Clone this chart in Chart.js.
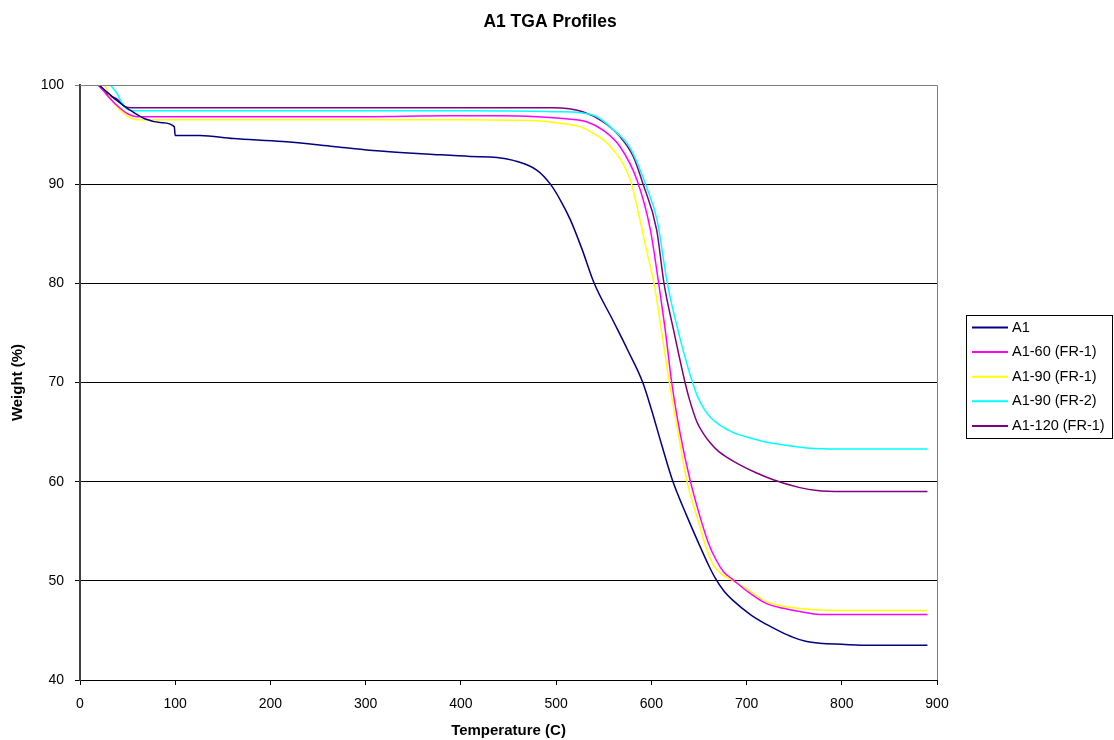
<!DOCTYPE html>
<html>
<head>
<meta charset="utf-8">
<title>A1 TGA Profiles</title>
<script src="https://cdn.jsdelivr.net/npm/chart.js@4"></script>
<style>
  body { margin: 0; background: #fff; }
  canvas { display: block; }
</style>
</head>
<body>
<canvas id="tgaChart" width="1114" height="740"></canvas>
<script>
// 数据：温度 (C) 与失重 (%)
const chartTitle = 'A1 TGA Profiles';
const seriesLabels = ['A1', 'A1-60 (FR-1)', 'A1-90 (FR-1)', 'A1-90 (FR-2)', 'A1-120 (FR-1)'];
const seriesColors = ['#000080', '#ff00ff', '#ffff00', '#00ffff', '#800080'];

const a1Temp = [20, 26, 38, 52, 68, 86, 99, 100, 126, 161, 213, 266, 301, 336, 371, 410, 438, 455, 480, 494, 505, 515, 527, 540, 560, 575, 591, 600, 610, 622, 637, 651, 660, 667, 676, 686, 704, 721, 735, 749, 762, 777, 800, 830, 860, 890];
const a1Weight = [100, 99.5, 98.5, 97.5, 96.6, 96.2, 95.8, 94.9, 94.9, 94.6, 94.3, 93.8, 93.45, 93.2, 93.0, 92.8, 92.7, 92.4, 91.4, 90.0, 88.3, 86.4, 83.5, 80.0, 76.2, 73.3, 70.0, 67.3, 64.0, 60.2, 56.6, 53.5, 51.6, 50.3, 49.0, 48.0, 46.6, 45.6, 44.9, 44.3, 43.9, 43.7, 43.6, 43.5, 43.5, 43.5];

const a160Temp = [20, 30, 44, 50, 60, 100, 200, 300, 385, 441, 480, 510, 532, 550, 567, 585, 599, 607.7, 615, 621.4, 630, 640.6, 651, 660, 668.6, 676, 686, 700, 721, 740, 756, 777, 800, 890];
const a160Weight = [100, 98.8, 97.5, 97.1, 96.8, 96.8, 96.8, 96.8, 96.9, 96.9, 96.8, 96.6, 96.3, 95.4, 93.8, 90.4, 85.4, 80.0, 75.0, 70.0, 65.0, 60.2, 56.5, 53.8, 52.0, 50.9, 50.1, 49.0, 47.7, 47.2, 46.9, 46.6, 46.6, 46.6];

const a190Temp = [22, 25, 33, 44, 51, 60, 100, 200, 300, 400, 480, 500, 525, 545, 557, 578, 588, 595, 602.8, 611, 618.9, 628, 637, 650, 658, 665, 675, 686, 700, 721, 756, 800, 890];
const a190Weight = [100, 100, 98.5, 97.3, 96.8, 96.5, 96.5, 96.5, 96.5, 96.5, 96.4, 96.2, 95.8, 94.8, 93.8, 90.4, 86.4, 83.3, 80.0, 75.0, 70.0, 65.0, 60.2, 55.8, 53.2, 51.6, 50.6, 50.0, 49.2, 47.9, 47.2, 47.0, 47.0];

const a190fr2Temp = [32, 38.5, 44, 49, 60, 100, 200, 300, 400, 500, 525, 543, 560, 578, 595, 606, 616.8, 630, 637, 642.3, 648, 655, 663, 672, 685, 704, 720, 739, 763, 800, 890];
const a190fr2Weight = [100, 99.2, 98.2, 97.6, 97.4, 97.4, 97.4, 97.4, 97.4, 97.3, 97.2, 96.8, 95.5, 93.6, 89.7, 86.4, 80.0, 74.5, 72.0, 70.3, 68.7, 67.4, 66.4, 65.7, 65.0, 64.4, 64.0, 63.7, 63.4, 63.3, 63.3];

const a1120Temp = [19, 30, 40, 47, 55, 100, 200, 300, 400, 497, 528, 549, 567, 581, 591, 605.6, 613.3, 624, 635.4, 640, 648, 655, 662, 670, 682, 693, 710, 728, 756, 774, 800, 890];
const a1120Weight = [100, 99, 98.5, 97.8, 97.7, 97.7, 97.7, 97.7, 97.7, 97.7, 97.3, 96.3, 94.8, 92.8, 90.1, 85.4, 80.0, 75.0, 70.0, 68.3, 66.0, 64.8, 63.9, 63.1, 62.3, 61.7, 60.9, 60.2, 59.4, 59.1, 59.0, 59.0];

const xTicksMin = 0, xTicksMax = 900, xStep = 100;
const yTicksMin = 40, yTicksMax = 100, yStep = 10;

const FONT = "Arial, 'Liberation Sans', sans-serif";

function toPoints(xs, ys) {
  return xs.map((x, i) => ({ x: x, y: ys[i] }));
}

const allSeries = [
  toPoints(a1Temp, a1Weight),
  toPoints(a160Temp, a160Weight),
  toPoints(a190Temp, a190Weight),
  toPoints(a190fr2Temp, a190fr2Weight),
  toPoints(a1120Temp, a1120Weight),
];

// 标题：原图中标题并不在画布正中，单独绘制
const titlePlugin = {
  id: 'titleText',
  afterDraw(chart) {
    const { ctx } = chart;
    ctx.save();
    ctx.font = 'bold 17.5px ' + FONT;
    ctx.fillStyle = '#000';
    ctx.textAlign = 'center';
    ctx.textBaseline = 'middle';
    ctx.fillText(chartTitle, 550, 22);
    ctx.restore();
  },
};

// 绘图区右侧与上侧的灰色边框
const plotBorder = {
  id: 'plotBorder',
  afterDraw(chart) {
    const { ctx, chartArea } = chart;
    ctx.save();
    ctx.strokeStyle = '#808080';
    ctx.lineWidth = 1;
    ctx.beginPath();
    ctx.moveTo(chartArea.left, chartArea.top + 0.5);
    ctx.lineTo(chartArea.right + 0.5, chartArea.top + 0.5);
    ctx.lineTo(chartArea.right + 0.5, chartArea.bottom);
    ctx.stroke();
    ctx.restore();
  },
};

// 带边框的图例
const boxLegend = {
  id: 'boxLegend',
  afterDraw(chart) {
    const { ctx } = chart;
    const left = 966, top = 315, width = 146, height = 123;
    ctx.save();
    ctx.strokeStyle = '#000';
    ctx.lineWidth = 1;
    ctx.strokeRect(left + 0.5, top + 0.5, width, height);
    ctx.font = '14.5px ' + FONT;
    ctx.textBaseline = 'middle';
    ctx.fillStyle = '#000';
    chart.data.datasets.forEach((ds, i) => {
      const y = 327.5 + i * 24.6;
      ctx.strokeStyle = ds.borderColor;
      ctx.lineWidth = 2;
      ctx.beginPath();
      ctx.moveTo(972, y);
      ctx.lineTo(1008, y);
      ctx.stroke();
      ctx.fillText(ds.label, 1012, y);
    });
    ctx.restore();
  },
};

function renderChart() {
  const datasets = allSeries.map((pts, i) => ({
    label: seriesLabels[i],
    data: pts,
    borderColor: seriesColors[i],
    backgroundColor: seriesColors[i],
    borderWidth: 1.5,
    pointRadius: 0,
    showLine: true,
    fill: false,
    cubicInterpolationMode: 'monotone',
  }));

  new Chart(document.getElementById('tgaChart'), {
    type: 'scatter',
    data: { datasets: datasets },
    options: {
      responsive: false,
      animation: false,
      layout: { padding: { left: 0, right: 177, top: 85, bottom: 0 } },
      plugins: {
        legend: { display: false },
        tooltip: { enabled: false },
        title: { display: false },
      },
      scales: {
        x: {
          type: 'linear',
          min: xTicksMin,
          max: xTicksMax,
          ticks: {
            stepSize: xStep,
            color: '#000',
            padding: 11,
            maxRotation: 0,
            font: { family: FONT, size: 14 },
          },
          grid: { drawOnChartArea: false, drawTicks: true, tickLength: 5, color: '#000' },
          border: { color: '#000', width: 1 },
          title: {
            display: true,
            text: 'Temperature (C)',
            color: '#000',
            font: { family: FONT, size: 15, weight: 'bold' },
            padding: { top: 0, bottom: 0 },
          },
          afterFit(scale) { scale.height = 60; },
        },
        y: {
          min: yTicksMin,
          max: yTicksMax,
          ticks: {
            stepSize: yStep,
            color: '#000',
            padding: 11,
            font: { family: FONT, size: 14 },
          },
          grid: {
            drawTicks: true,
            tickLength: 5,
            color: (ctx) => (ctx.tick && ctx.tick.value === yTicksMax ? '#808080' : '#000'),
          },
          border: { color: '#404040', width: 2 },
          title: {
            display: true,
            text: 'Weight (%)',
            color: '#000',
            font: { family: FONT, size: 15, weight: 'bold' },
            padding: { top: 9, bottom: 0 },
          },
          afterFit(scale) { scale.width = 80; },
        },
      },
    },
    plugins: [titlePlugin, plotBorder, boxLegend],
  });
}

window.addEventListener('DOMContentLoaded', renderChart);
</script>
</body>
</html>
